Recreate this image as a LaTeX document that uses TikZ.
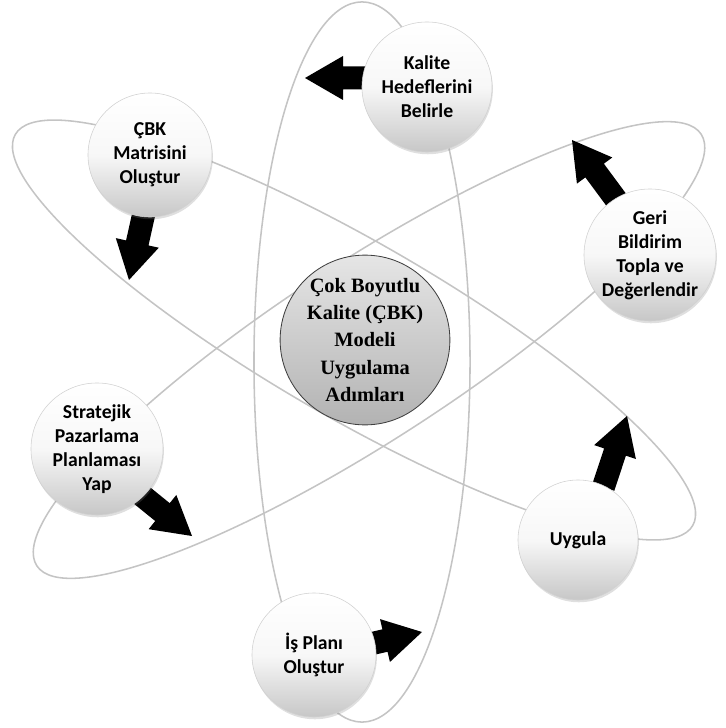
\documentclass[tikz,border=0pt]{standalone}
\usepackage{fontspec}
\setmainfont{Carlito}
\newfontfamily\hubfont{Liberation Serif}
\usetikzlibrary{shadows}

\begin{document}
\begin{tikzpicture}[
		x=0.025cm, y=0.025cm,
		orbit/.style={draw=black!23, line width=1.1pt},
		stepnode/.style={circle, draw=black!18, line width=0.4pt, top color=white, bottom color=black!22, middle color=black!3,
				align=center, inner sep=0pt, font=\bfseries\fontsize{14}{17}\selectfont,
				drop shadow={opacity=0.25, shadow xshift=0.6pt, shadow yshift=-1.6pt}},
		hubnode/.style={circle, draw=black!75, line width=0.6pt, top color=black!10, bottom color=black!30,
				align=center, inner sep=0pt, minimum size=4.15cm, font=\hubfont\bfseries\fontsize{14.5}{19.5}\selectfont},
		turn/.pic={\fill[black] (0,0) -- (-38,22) -- (-38,11.5) -- (-75,11.5) -- (-75,-11.5) -- (-38,-11.5) -- (-38,-22) -- cycle;}
	]
	\useasboundingbox (0,0) rectangle (725,-728);

	% orbits
	\draw[orbit] (362,-362) ellipse [x radius=2.7cm, y radius=9cm];
	\draw[orbit, rotate around={-30:(354,-330)}] (354,-330) ellipse [x radius=9.775cm, y radius=2.2cm];
	\draw[orbit, rotate around={33:(369,-350)}] (369,-350) ellipse [x radius=9.9cm, y radius=2.225cm];

	% arrows (placed at their tips)
	\pic[rotate=180] (tokalite) at (305,-78) {turn};
	\pic[rotate=-102.6] (tomatris) at (129,-280) {turn};
	\pic[rotate=-39] (tostrateji) at (192,-536) {turn};
	\pic[rotate=13] (toisplani) at (422,-632) {turn};
	\pic[rotate=71.6] (touygula) at (627,-416) {turn};
	\pic[rotate=126.5] (togeri) at (572,-140) {turn};

	% steps
	\node[stepnode, minimum size=3.25cm] (kalite) at (427,-87) {Kalite\\Hedeflerini\\Belirle};
	\node[stepnode, minimum size=3.1cm] (matris) at (150,-155) {ÇBK\\Matrisini\\Oluştur};
	\node[stepnode, minimum size=3.3cm] (geri) at (650,-255) {Geri\\Bildirim\\Topla ve\\Değerlendir};
	\node[stepnode, minimum size=3.3cm] (strateji) at (97,-449) {Stratejik\\Pazarlama\\Planlaması\\Yap};
	\node[stepnode, minimum size=3.1cm] (isplani) at (314,-655) {İş Planı\\Oluştur};
	\node[stepnode, minimum size=3.0cm] (uygula) at (578,-540) {Uygula};
	\node[hubnode] (hub) at (365,-340) {Çok Boyutlu\\Kalite (ÇBK)\\Modeli\\Uygulama\\Adımları};
\end{tikzpicture}
\end{document}
